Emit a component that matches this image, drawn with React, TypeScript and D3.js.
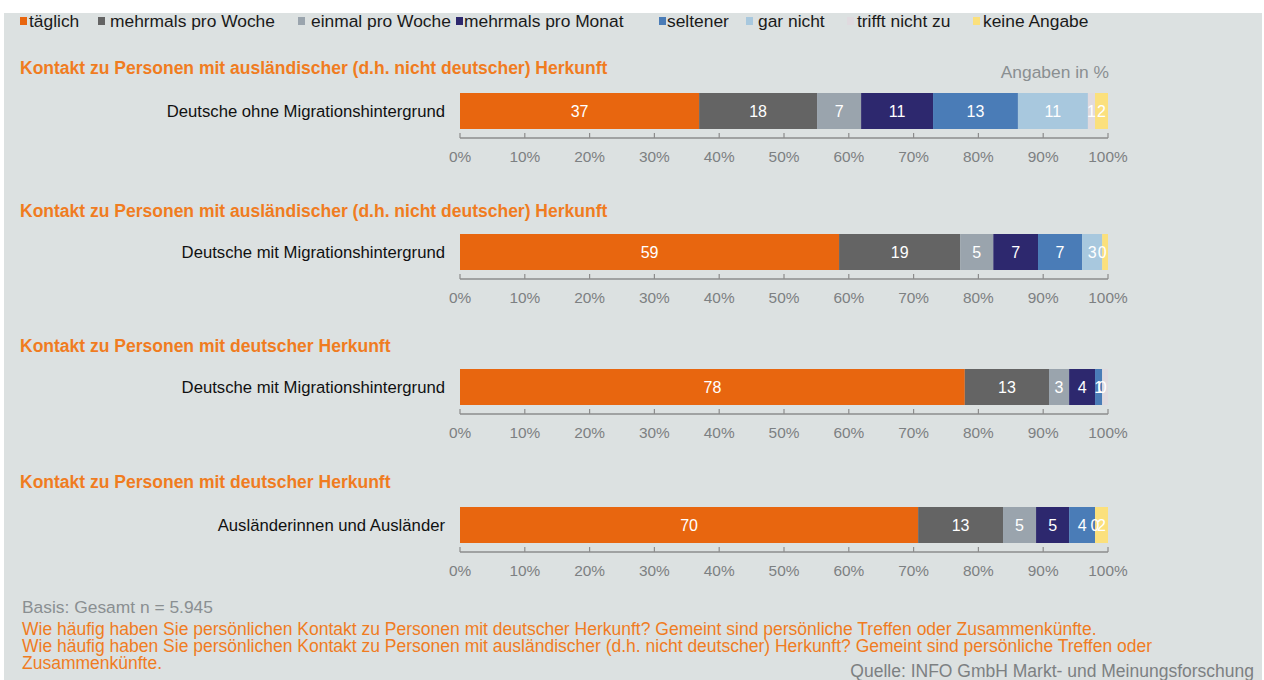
import React from "react";
import * as d3 from "d3";

// ---------- data ----------
const categories = [
  "Deutsche ohne Migrationshintergrund",
  "Deutsche mit Migrationshintergrund",
  "Deutsche mit Migrationshintergrund",
  "Ausländerinnen und Ausländer",
];
const sectionTitles = [
  "Kontakt zu Personen mit ausländischer (d.h. nicht deutscher) Herkunft",
  "Kontakt zu Personen mit ausländischer (d.h. nicht deutscher) Herkunft",
  "Kontakt zu Personen mit deutscher Herkunft",
  "Kontakt zu Personen mit deutscher Herkunft",
];
const seriesNames = [
  "täglich",
  "mehrmals pro Woche",
  "einmal pro Woche",
  "mehrmals pro Monat",
  "seltener",
  "gar nicht",
  "trifft nicht zu",
  "keine Angabe",
];
const seriesColors = [
  "#e8660f",
  "#646464",
  "#9aa4ad",
  "#2d286e",
  "#4a7cb7",
  "#a8c8de",
  "#e0dadf",
  "#fbe07c",
];
// shares (in %) per row
const taeglich = [36.9, 58.5, 77.9, 70.7];
const mehrmalsWoche = [18.2, 18.7, 13.0, 13.1];
const einmalWoche = [6.8, 5.1, 3.1, 5.1];
const mehrmalsMonat = [11.1, 6.9, 4.0, 5.1];
const seltener = [13.1, 6.8, 1.1, 4.0];
const garNicht = [10.8, 3.1, 0, 0];
const trifftNicht = [1.1, 0, 0.9, 0];
const keineAngabe = [2.0, 0.9, 0, 2.0];
// printed value labels ("" = not shown)
const taeglichLabels = ["37", "59", "78", "70"];
const mehrmalsWocheLabels = ["18", "19", "13", "13"];
const einmalWocheLabels = ["7", "5", "3", "5"];
const mehrmalsMonatLabels = ["11", "7", "4", "5"];
const seltenerLabels = ["13", "7", "1", "4"];
const garNichtLabels = ["11", "3", "0", ""];
const trifftNichtLabels = ["1", "0", "", "0"];
const keineAngabeLabels = ["2", "", "", "2"];
const tickValues = [0, 10, 20, 30, 40, 50, 60, 70, 80, 90, 100];

const basisText = "Basis: Gesamt n = 5.945";
const questionLines = [
  "Wie häufig haben Sie persönlichen Kontakt zu Personen mit deutscher Herkunft? Gemeint sind persönliche Treffen oder Zusammenkünfte.",
  "Wie häufig haben Sie persönlichen Kontakt zu Personen mit ausländischer (d.h. nicht deutscher) Herkunft? Gemeint sind persönliche Treffen oder",
  "Zusammenkünfte.",
];
const sourceText = "Quelle: INFO GmbH Markt- und Meinungsforschung";
const unitText = "Angaben in %";

const seriesValues = [
  taeglich,
  mehrmalsWoche,
  einmalWoche,
  mehrmalsMonat,
  seltener,
  garNicht,
  trifftNicht,
  keineAngabe,
];
const seriesLabels = [
  taeglichLabels,
  mehrmalsWocheLabels,
  einmalWocheLabels,
  mehrmalsMonatLabels,
  seltenerLabels,
  garNichtLabels,
  trifftNichtLabels,
  keineAngabeLabels,
];

// ---------- layout ----------
const W = 1264;
const H = 680;
const FONT = "'Liberation Sans', Arial, Helvetica, sans-serif";
const barTops = [93, 234, 369, 507];
const titleBaselines = [74, 217, 352, 488];
const barH = 36;
const legendX = [20, 98, 298, 456, 659, 746, 847, 973];
const legendTextDx = [9, 12, 13, 8, 8, 12, 10, 10];

export default function App() {
  const x = d3.scaleLinear().domain([0, 100]).range([460, 1108]);

  const table = categories.map((c, i) => {
    const row: Record<string, number> = { idx: i };
    seriesNames.forEach((s, j) => (row[s] = seriesValues[j][i]));
    return row;
  });
  const stacked = d3.stack<Record<string, number>>().keys(seriesNames)(table);

  return (
    <svg
      width={W}
      height={H}
      style={{ position: "absolute", left: 0, top: 0, display: "block" }}
      fontFamily={FONT}
    >
      <rect x={0} y={0} width={W} height={H} fill="#ffffff" />
      <rect x={4} y={13} width={W - 6} height={H - 13} fill="#dce1e1" />

      {/* legend */}
      {seriesNames.map((s, j) => (
        <g key={s} transform={`translate(${legendX[j]},0)`}>
          <rect x={0} y={17} width={7} height={8} fill={seriesColors[j]} />
          <text x={legendTextDx[j]} y={27} fontSize={17.4} fill="#1a1a1a">
            {s}
          </text>
        </g>
      ))}

      <text x={1109} y={78} fontSize={17.4} fill="#8a8f91" textAnchor="end">
        {unitText}
      </text>

      {categories.map((cat, i) => {
        const top = barTops[i];
        const cy = top + barH / 2;
        const axisY = top + barH + 9;
        return (
          <g key={i}>
            <text x={20} y={titleBaselines[i]} fontSize={17.5} fontWeight="bold" fill="#f07c1f">
              {sectionTitles[i]}
            </text>
            <text x={445} y={cy + 6} fontSize={16.7} fill="#111" textAnchor="end">
              {cat}
            </text>
            {stacked.map((layer, j) => {
              const d = layer[i];
              const w = x(d[1]) - x(d[0]);
              return w > 0 ? (
                <rect
                  key={j}
                  x={x(d[0])}
                  y={top}
                  width={w}
                  height={barH}
                  fill={seriesColors[j]}
                />
              ) : null;
            })}
            {stacked.map((layer, j) => {
              const d = layer[i];
              const lab = seriesLabels[j][i];
              if (!lab) return null;
              return (
                <text
                  key={"l" + j}
                  x={(x(d[0]) + x(d[1])) / 2}
                  y={cy + 6}
                  fontSize={16}
                  fill="#ffffff"
                  textAnchor="middle"
                >
                  {lab}
                </text>
              );
            })}
            {/* axis */}
            <line x1={x(0)} x2={x(100)} y1={axisY} y2={axisY} stroke="#8c8c8c" strokeWidth={1.5} />
            {tickValues.map((t) => (
              <g key={t}>
                <line x1={x(t)} x2={x(t)} y1={axisY - 5} y2={axisY} stroke="#8c8c8c" strokeWidth={1.2} />
                <text x={x(t)} y={axisY + 24} fontSize={15.4} fill="#7c8082" textAnchor="middle">
                  {t}%
                </text>
              </g>
            ))}
          </g>
        );
      })}

      {/* footer */}
      <text x={22} y={613} fontSize={17.4} fill="#8a8f91">
        {basisText}
      </text>
      {questionLines.map((l, k) => (
        <text key={k} x={22} y={635 + k * 17} fontSize={17.5} fill="#f07c1f">
          {l}
        </text>
      ))}
      <text x={1254} y={677} fontSize={17.5} fill="#7c8082" textAnchor="end">
        {sourceText}
      </text>
    </svg>
  );
}
